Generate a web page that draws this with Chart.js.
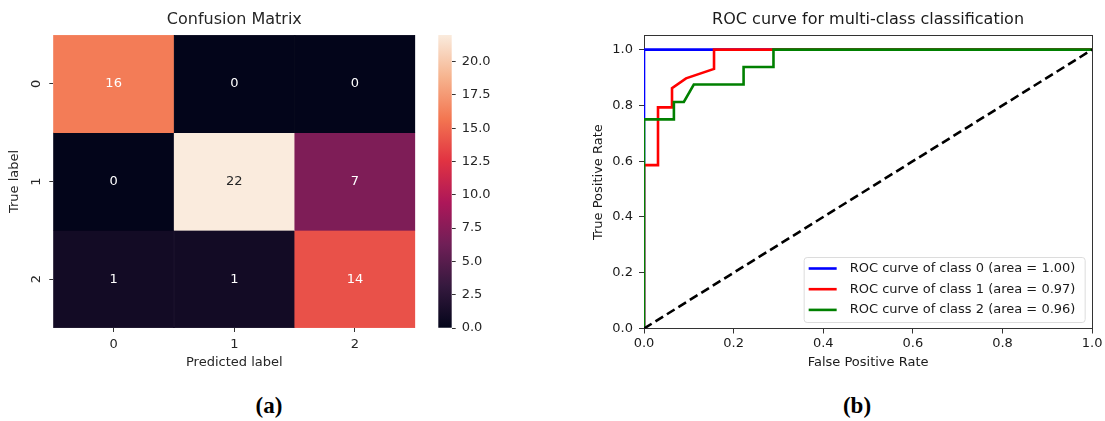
<!DOCTYPE html>
<html>
<head>
<meta charset="utf-8">
<title>Confusion matrix and ROC curves</title>
<script src="https://cdn.jsdelivr.net/npm/chart.js@4.4.1/dist/chart.umd.min.js"></script>
<style>
  html, body { margin: 0; padding: 0; background: #fff; }
  #page { position: relative; width: 1105px; height: 421px; overflow: hidden; }
  canvas { position: absolute; top: 0; }
  #heatmap { left: 0; }
  #colorbar { left: 430px; }
  #roc { left: 560px; }
  .caption {
    position: absolute; top: 393px; line-height: 22px;
    font: bold 23px "Liberation Serif", serif; color: #000;
    transform: translateX(-50%);
  }
</style>
</head>
<body>
<div id="page">
  <canvas id="heatmap" width="430" height="380"></canvas>
  <canvas id="colorbar" width="100" height="380"></canvas>
  <canvas id="roc" width="545" height="380"></canvas>
  <div class="caption" style="left:269px">(a)</div>
  <div class="caption" style="left:857px">(b)</div>
</div>
<script>
// ---- data ----
const classLabels = ['0', '1', '2'];
const confusionRow0 = [16, 0, 0];
const confusionRow1 = [0, 22, 7];
const confusionRow2 = [1, 1, 14];
const confusion = [confusionRow0, confusionRow1, confusionRow2];
const colorMax = 22;
const colorbarTicks = [0, 2.5, 5, 7.5, 10, 12.5, 15, 17.5, 20];

const rocTicks = [0, 0.2, 0.4, 0.6, 0.8, 1.0];
const class0Fpr = [0, 0, 1];
const class0Tpr = [0, 1, 1];
const class1Fpr = [0, 0, 0.03125, 0.03125, 0.0625, 0.0625, 0.09375, 0.15625, 0.15625, 1];
const class1Tpr = [0, 0.586, 0.586, 0.793, 0.793, 0.862, 0.897, 0.931, 1, 1];
const class2Fpr = [0, 0, 0.0667, 0.0667, 0.0889, 0.1111, 0.2222, 0.2222, 0.2889, 0.2889, 1];
const class2Tpr = [0, 0.75, 0.75, 0.8125, 0.8125, 0.875, 0.875, 0.9375, 0.9375, 1, 1];
const chanceFpr = [0, 1];
const chanceTpr = [0, 1];
const rocLabels = [
  'ROC curve of class 0 (area = 1.00)',
  'ROC curve of class 1 (area = 0.97)',
  'ROC curve of class 2 (area = 0.96)'
];

const FONT = 13;
const TITLE_FONT = 16;
Chart.defaults.font.family = '"DejaVu Sans", sans-serif';
Chart.defaults.font.size = FONT;
Chart.defaults.color = '#262626';

// seaborn "rocket" colormap
const ROCKET = [
  [0, '#03051a'], [1 / 7, '#35193e'], [2 / 7, '#701f57'], [3 / 7, '#ad1759'],
  [4 / 7, '#e13342'], [5 / 7, '#f37651'], [6 / 7, '#f6b48f'], [1, '#faebdd']
];

function hexToRgb(h) {
  return [1, 3, 5].map(i => parseInt(h.slice(i, i + 2), 16));
}

function rocketRgb(t) {
  t = Math.max(0, Math.min(1, t));
  for (let i = 1; i < ROCKET.length; i++) {
    if (t <= ROCKET[i][0]) {
      const [t0, c0] = ROCKET[i - 1];
      const [t1, c1] = ROCKET[i];
      const f = (t - t0) / (t1 - t0);
      const a = hexToRgb(c0), b = hexToRgb(c1);
      return a.map((v, k) => Math.round(v + (b[k] - v) * f));
    }
  }
  return hexToRgb(ROCKET[ROCKET.length - 1][1]);
}

function rocket(v) {
  const [r, g, b] = rocketRgb(v / colorMax);
  return `rgb(${r},${g},${b})`;
}

// same rule seaborn uses to pick annotation colour
function textColorFor(v) {
  const lin = rocketRgb(v / colorMax).map(c => {
    c /= 255;
    return c <= 0.03928 ? c / 12.92 : Math.pow((c + 0.055) / 1.055, 2.4);
  });
  const lum = 0.2126 * lin[0] + 0.7152 * lin[1] + 0.0722 * lin[2];
  return lum > 0.408 ? '#262626' : '#ffffff';
}

const tickGrid = (len) => ({
  display: true,
  drawOnChartArea: false,
  drawTicks: true,
  tickLength: len,
  tickColor: '#333',
  offset: false
});

// ---- confusion matrix ----
const heatmapText = {
  id: 'heatmapText',
  afterDraw(chart) {
    const ctx = chart.ctx;
    ctx.save();
    ctx.font = FONT + 'px "DejaVu Sans"';
    ctx.textAlign = 'center';
    ctx.textBaseline = 'middle';
    chart.data.datasets.forEach((ds, r) => {
      chart.getDatasetMeta(r).data.forEach((bar, c) => {
        const v = confusion[r][c];
        ctx.fillStyle = textColorFor(v);
        ctx.fillText(String(v), bar.x, (bar.y + bar.base) / 2);
      });
    });
    // y tick labels, rotated like matplotlib
    const y = chart.scales.y;
    ctx.fillStyle = '#262626';
    classLabels.forEach((lab, i) => {
      ctx.save();
      ctx.translate(37, y.getPixelForValue(i));
      ctx.rotate(-Math.PI / 2);
      ctx.fillText(lab, 0, 0);
      ctx.restore();
    });
    ctx.restore();
  }
};

new Chart(document.getElementById('heatmap'), {
  type: 'bar',
  data: {
    labels: classLabels,
    datasets: confusion.map((row, r) => ({
      label: 'true ' + r,
      data: row.map(() => [r - 0.5, r + 0.5]),
      backgroundColor: row.map(rocket),
      borderColor: row.map(rocket),
      borderWidth: 0.5,
      borderSkipped: false,
      grouped: false,
      barPercentage: 1,
      categoryPercentage: 1
    }))
  },
  options: {
    responsive: false,
    animation: false,
    events: [],
    layout: { padding: { left: 0, right: 14.7, top: 0, bottom: 0 } },
    plugins: { legend: { display: false }, tooltip: { enabled: false } },
    scales: {
      x: {
        position: 'bottom',
        grid: tickGrid(4),
        border: { display: false },
        ticks: { padding: 5, color: '#262626' },
        title: { display: true, text: 'Predicted label', color: '#262626', padding: { top: 0, bottom: 9.2 } },
        afterFit: s => { s.height = 52; }
      },
      top: {
        type: 'category',
        labels: classLabels,
        position: 'top',
        grid: { display: false },
        border: { display: false },
        ticks: { display: false },
        title: { display: true, text: 'Confusion Matrix', font: { size: TITLE_FONT }, color: '#262626', padding: { top: 10.4, bottom: 0 } },
        afterFit: s => { s.height = 35; }
      },
      y: {
        type: 'linear',
        min: -0.5,
        max: 2.5,
        reverse: true,
        grid: tickGrid(4),
        border: { display: false },
        ticks: { display: false },
        afterBuildTicks: s => { s.ticks = classLabels.map((_, i) => ({ value: i })); },
        title: { display: true, text: 'True label', color: '#262626', padding: { top: 7.2, bottom: 0 } },
        afterFit: s => { s.width = 53.3; }
      }
    }
  },
  plugins: [heatmapText]
});

// ---- colour bar ----
new Chart(document.getElementById('colorbar'), {
  type: 'bar',
  data: {
    labels: [''],
    datasets: [{
      data: [[0, colorMax]],
      barPercentage: 1,
      categoryPercentage: 1,
      borderWidth: 0,
      backgroundColor: (context) => {
        const { chart } = context;
        if (!chart.chartArea) return null;
        const ys = chart.scales.y;
        const g = chart.ctx.createLinearGradient(0, ys.getPixelForValue(0), 0, ys.getPixelForValue(colorMax));
        ROCKET.forEach(([t, c]) => g.addColorStop(t, c));
        return g;
      }
    }]
  },
  options: {
    responsive: false,
    animation: false,
    events: [],
    layout: { padding: { left: 8.3, right: 0, top: 35, bottom: 52 } },
    plugins: { legend: { display: false }, tooltip: { enabled: false } },
    scales: {
      x: { display: false },
      y: {
        position: 'right',
        min: 0,
        max: colorMax,
        grid: tickGrid(4),
        border: { display: false },
        afterBuildTicks: s => { s.ticks = colorbarTicks.map(v => ({ value: v })); },
        ticks: { padding: 6, color: '#262626', callback: v => Number(v).toFixed(1) },
        afterFit: s => { s.width = 78.3; }
      }
    }
  }
});

// ---- ROC curves ----
const toPoints = (xs, ys) => xs.map((x, i) => ({ x, y: ys[i] }));

const rocLegend = {
  id: 'rocLegend',
  afterDraw(chart) {
    const ctx = chart.ctx;
    const area = chart.chartArea;
    const items = chart.data.datasets.filter(d => d.label);
    const w = 281, h = 65;
    const x0 = area.right - 7.5 - w;
    const y0 = area.bottom - 6.5 - h;
    ctx.save();
    ctx.beginPath();
    ctx.roundRect(x0 + 0.5, y0 + 0.5, w, h, 3);
    ctx.fillStyle = 'rgba(255,255,255,0.8)';
    ctx.fill();
    ctx.strokeStyle = '#dcdcdc';
    ctx.lineWidth = 1;
    ctx.stroke();
    ctx.font = FONT + 'px "DejaVu Sans"';
    ctx.textAlign = 'left';
    ctx.textBaseline = 'middle';
    items.forEach((d, i) => {
      const yy = y0 + 11.5 + i * 20.7;
      ctx.beginPath();
      ctx.moveTo(x0 + 5, yy);
      ctx.lineTo(x0 + 33, yy);
      ctx.strokeStyle = d.borderColor;
      ctx.lineWidth = 2.6;
      ctx.stroke();
      ctx.fillStyle = '#1a1a1a';
      ctx.fillText(d.label, x0 + 46, yy);
    });
    ctx.restore();
  }
};

const curve = (label, xs, ys, color, order) => ({
  label,
  data: toPoints(xs, ys),
  borderColor: color,
  borderWidth: 2.6,
  pointRadius: 0,
  tension: 0,
  fill: false,
  order
});

new Chart(document.getElementById('roc'), {
  type: 'line',
  data: {
    datasets: [
      curve(rocLabels[0], class0Fpr, class0Tpr, '#0000ff', 3),
      curve(rocLabels[1], class1Fpr, class1Tpr, '#ff0000', 2),
      curve(rocLabels[2], class2Fpr, class2Tpr, '#008000', 1),
      {
        label: '',
        data: toPoints(chanceFpr, chanceTpr),
        borderColor: '#000',
        borderWidth: 2.6,
        borderDash: [9, 4.5],
        pointRadius: 0,
        order: 0
      }
    ]
  },
  options: {
    responsive: false,
    animation: false,
    events: [],
    layout: { padding: 0 },
    plugins: { legend: { display: false }, tooltip: { enabled: false } },
    scales: {
      x: {
        type: 'linear',
        position: 'bottom',
        min: 0,
        max: 1,
        grid: tickGrid(5),
        border: { display: true, color: '#333', width: 1 },
        afterBuildTicks: s => { s.ticks = rocTicks.map(v => ({ value: v })); },
        ticks: { padding: 2.5, color: '#1a1a1a', maxRotation: 0, callback: v => Number(v).toFixed(1) },
        title: { display: true, text: 'False Positive Rate', color: '#1a1a1a', padding: { top: 0, bottom: 9.2 } },
        afterFit: s => { s.height = 51.5; }
      },
      x2: {
        type: 'linear',
        position: 'top',
        min: 0,
        max: 1,
        grid: { display: false },
        border: { display: true, color: '#333', width: 1 },
        ticks: { display: false },
        title: { display: true, text: 'ROC curve for multi-class classification', font: { size: TITLE_FONT }, color: '#1a1a1a', padding: { top: 10.4, bottom: 0 } },
        afterFit: s => { s.height = 35.7; }
      },
      y: {
        type: 'linear',
        position: 'left',
        min: 0,
        max: 1.05,
        grid: tickGrid(5),
        border: { display: true, color: '#333', width: 1 },
        afterBuildTicks: s => { s.ticks = rocTicks.map(v => ({ value: v })); },
        ticks: { padding: 6, color: '#1a1a1a', callback: v => Number(v).toFixed(1) },
        title: { display: true, text: 'True Positive Rate', color: '#1a1a1a', padding: { top: 31.2, bottom: 0 } },
        afterFit: s => { s.width = 84; }
      },
      y2: {
        type: 'linear',
        position: 'right',
        min: 0,
        max: 1.05,
        grid: { display: false },
        border: { display: true, color: '#333', width: 1 },
        ticks: { display: false },
        afterFit: s => { s.width = 9.5; }
      }
    }
  },
  plugins: [rocLegend]
});
</script>
</body>
</html>
